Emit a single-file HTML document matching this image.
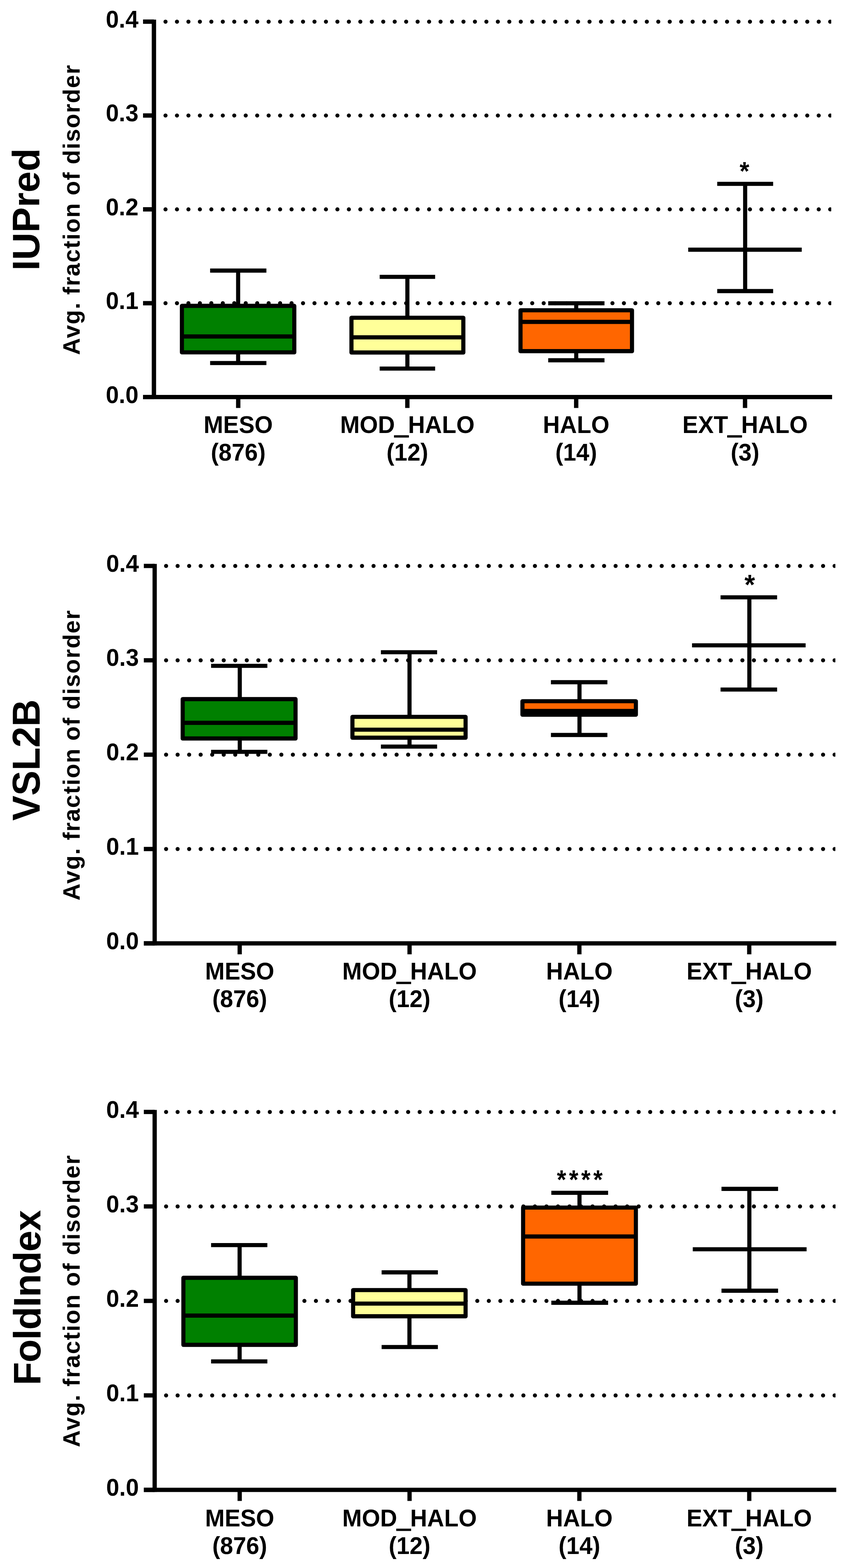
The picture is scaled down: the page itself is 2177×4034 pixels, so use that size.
<!DOCTYPE html>
<html><head><meta charset="utf-8"><title>Disorder box plots</title>
<style>
html,body{margin:0;padding:0;background:#fff;overflow:hidden;}
svg{display:block;}
</style></head>
<body>
<svg width="2177" height="4034" viewBox="0 0 2177 4034">
<rect width="2177" height="4034" fill="#fff"/>
<g id="p0">
<clipPath id="c0"><rect x="396.1" y="35.7" width="1742.9" height="1005.8"/></clipPath>
<g clip-path="url(#c0)" stroke="#000" stroke-width="10.5" stroke-linecap="round" stroke-dasharray="0 29.49" fill="none">
<path d="M425.9 780.05H2159"/>
<path d="M425.9 538.6H2159"/>
<path d="M425.9 297.15H2159"/>
<path d="M425.9 55.7H2159"/>
</g>
<g stroke="#000" stroke-width="10.6" fill="none">
<path d="M612.8 786.9V696.1M540.7 696.1H685.5M612.8 906.5V934M540.7 934H685.5"/>
<rect x="468.1" y="786.9" width="289.2" height="119.6" fill="#008000" stroke-linejoin="round"/>
<path d="M468.1 865.6H757.3"/>
<path d="M1048.3 817.5V712.2M977 712.2H1119.7M1048.3 906.9V948.2M977 948.2H1119.7"/>
<rect x="904.4" y="817.5" width="287.9" height="89.4" fill="#FFFF99" stroke-linejoin="round"/>
<path d="M904.4 867.9H1192.3"/>
<path d="M1482.8 798.2V780.3M1410.7 780.3H1555.5M1482.8 903.4V926.9M1410.7 926.9H1555.5"/>
<rect x="1339.4" y="798.2" width="286.9" height="105.2" fill="#FF6600" stroke-linejoin="round"/>
<path d="M1339.4 828.1H1626.3"/>
<path d="M1917.5 473V748.9M1845.6 473H1989.5M1845.6 748.9H1989.5M1771 642.4H2063.1"/>
</g>
<g stroke="#000" stroke-width="11.2" fill="none">
<path d="M396.1 50.5V1026.7"/>
<path d="M368.1 1021.5H2141.2"/>
<path d="M368.1 1021.5H396.1"/>
<path d="M368.1 780.05H396.1"/>
<path d="M368.1 538.6H396.1"/>
<path d="M368.1 297.15H396.1"/>
<path d="M368.1 55.7H396.1"/>
<path d="M613 1021.5V1049.6"/>
<path d="M1048.2 1021.5V1049.6"/>
<path d="M1482.7 1021.5V1049.6"/>
<path d="M1917.2 1021.5V1049.6"/>
</g>
<g font-family="'Liberation Sans', Arial, Helvetica, sans-serif" font-weight="bold" fill="#000">
<text transform="translate(356.30 1036.50) scale(1 1.0350)" font-size="60.50" text-anchor="end">0.0</text>
<text transform="translate(356.30 795.05) scale(1 1.0350)" font-size="60.50" text-anchor="end">0.1</text>
<text transform="translate(356.30 553.60) scale(1 1.0350)" font-size="60.50" text-anchor="end">0.2</text>
<text transform="translate(356.30 312.15) scale(1 1.0350)" font-size="60.50" text-anchor="end">0.3</text>
<text transform="translate(356.30 70.70) scale(1 1.0350)" font-size="60.50" text-anchor="end">0.4</text>
<text transform="translate(613.00 1114.10) scale(1 1.0350)" font-size="60.50" text-anchor="middle">MESO</text>
<text transform="translate(613.00 1184.50) scale(1 1.0350)" font-size="60.50" text-anchor="middle">(876)</text>
<text transform="translate(1048.20 1114.10) scale(1 1.0350)" font-size="60.50" text-anchor="middle">MOD<tspan dy="1.9" stroke="#000" stroke-width="3.6">_</tspan><tspan dy="-1.9">HALO</tspan></text>
<text transform="translate(1048.20 1184.50) scale(1 1.0350)" font-size="60.50" text-anchor="middle">(12)</text>
<text transform="translate(1482.70 1114.10) scale(1 1.0350)" font-size="60.50" text-anchor="middle">HALO</text>
<text transform="translate(1482.70 1184.50) scale(1 1.0350)" font-size="60.50" text-anchor="middle">(14)</text>
<text transform="translate(1917.20 1114.10) scale(1 1.0350)" font-size="60.50" text-anchor="middle">EXT<tspan dy="1.9" stroke="#000" stroke-width="3.6">_</tspan><tspan dy="-1.9">HALO</tspan></text>
<text transform="translate(1917.20 1184.50) scale(1 1.0350)" font-size="60.50" text-anchor="middle">(3)</text>
<text transform="translate(1903.31 462.50) scale(1 1.0312)" font-size="64.10" text-anchor="start">*</text>
<text transform="translate(205.00 913.31) rotate(-90) scale(1 1.0083)" font-size="60.500" letter-spacing="1.899">Avg. fraction of disorder</text>
<text transform="translate(101.30 695.93) rotate(-90) scale(1 1.0093)" font-size="97.595">IUPred</text>
</g>
</g>
<g id="p1">
<clipPath id="c1"><rect x="398" y="1436" width="1751.6" height="1011"/></clipPath>
<g clip-path="url(#c1)" stroke="#000" stroke-width="10.5" stroke-linecap="round" stroke-dasharray="0 29.66" fill="none">
<path d="M427.4 2184.25H2169.6"/>
<path d="M427.4 1941.5H2169.6"/>
<path d="M427.4 1698.75H2169.6"/>
<path d="M427.4 1456H2169.6"/>
</g>
<g stroke="#000" stroke-width="10.6" fill="none">
<path d="M617 1798.6V1713M543.2 1713H688M617 1899.9V1934.3M543.2 1934.3H688"/>
<rect x="470.1" y="1798.6" width="290.4" height="101.3" fill="#008000" stroke-linejoin="round"/>
<path d="M470.1 1859.6H760.5"/>
<path d="M1053.8 1844.2V1678M980.2 1678H1124.8M1053.8 1897.9V1920.8M980.2 1920.8H1124.8"/>
<rect x="906.9" y="1844.2" width="291.2" height="53.7" fill="#FFFF99" stroke-linejoin="round"/>
<path d="M906.9 1877.2H1198.1"/>
<path d="M1491.2 1804V1755.1M1417.7 1755.1H1563M1491.2 1838.7V1890.9M1417.7 1890.9H1563"/>
<rect x="1344.4" y="1804" width="291.9" height="34.7" fill="#FF6600" stroke-linejoin="round"/>
<path d="M1344.4 1829H1636.3"/>
<path d="M1928.3 1536.7V1774M1854.2 1536.7H1999.7M1854.2 1774H1999.7M1780.8 1660.3H2073.1"/>
</g>
<g stroke="#000" stroke-width="11" fill="none">
<path d="M398 1450.8V2432.2"/>
<path d="M370.1 2427H2151.9"/>
<path d="M370.1 2427H398"/>
<path d="M370.1 2184.25H398"/>
<path d="M370.1 1941.5H398"/>
<path d="M370.1 1698.75H398"/>
<path d="M370.1 1456H398"/>
<path d="M616.8 2427V2455.2"/>
<path d="M1053.9 2427V2455.2"/>
<path d="M1490.9 2427V2455.2"/>
<path d="M1928 2427V2455.2"/>
</g>
<g font-family="'Liberation Sans', Arial, Helvetica, sans-serif" font-weight="bold" fill="#000">
<text transform="translate(357.30 2441.70) scale(1 1.0350)" font-size="60.50" text-anchor="end">0.0</text>
<text transform="translate(357.30 2198.95) scale(1 1.0350)" font-size="60.50" text-anchor="end">0.1</text>
<text transform="translate(357.30 1956.20) scale(1 1.0350)" font-size="60.50" text-anchor="end">0.2</text>
<text transform="translate(357.30 1713.45) scale(1 1.0350)" font-size="60.50" text-anchor="end">0.3</text>
<text transform="translate(357.30 1470.70) scale(1 1.0350)" font-size="60.50" text-anchor="end">0.4</text>
<text transform="translate(616.80 2520.10) scale(1 1.0350)" font-size="60.50" text-anchor="middle">MESO</text>
<text transform="translate(616.80 2590.80) scale(1 1.0350)" font-size="60.50" text-anchor="middle">(876)</text>
<text transform="translate(1053.90 2520.10) scale(1 1.0350)" font-size="60.50" text-anchor="middle">MOD<tspan dy="1.9" stroke="#000" stroke-width="3.6">_</tspan><tspan dy="-1.9">HALO</tspan></text>
<text transform="translate(1053.90 2590.80) scale(1 1.0350)" font-size="60.50" text-anchor="middle">(12)</text>
<text transform="translate(1490.90 2520.10) scale(1 1.0350)" font-size="60.50" text-anchor="middle">HALO</text>
<text transform="translate(1490.90 2590.80) scale(1 1.0350)" font-size="60.50" text-anchor="middle">(14)</text>
<text transform="translate(1928.00 2520.10) scale(1 1.0350)" font-size="60.50" text-anchor="middle">EXT<tspan dy="1.9" stroke="#000" stroke-width="3.6">_</tspan><tspan dy="-1.9">HALO</tspan></text>
<text transform="translate(1928.00 2590.80) scale(1 1.0350)" font-size="60.50" text-anchor="middle">(3)</text>
<text transform="translate(1915.80 1529.40) scale(1 1.0273)" font-size="69.60" text-anchor="start">*</text>
<text transform="translate(205.00 2316.81) rotate(-90) scale(1 1.0083)" font-size="60.500" letter-spacing="1.924">Avg. fraction of disorder</text>
<text transform="translate(101.70 2111.46) rotate(-90) scale(1 1.0329)" font-size="96.818">VSL2B</text>
</g>
</g>
<g id="p2">
<clipPath id="c2"><rect x="398" y="2840.7" width="1752" height="1012.3"/></clipPath>
<g clip-path="url(#c2)" stroke="#000" stroke-width="10.5" stroke-linecap="round" stroke-dasharray="0 29.66" fill="none">
<path d="M427.4 3589.93H2170"/>
<path d="M427.4 3346.85H2170"/>
<path d="M427.4 3103.77H2170"/>
<path d="M427.4 2860.7H2170"/>
</g>
<g stroke="#000" stroke-width="10.6" fill="none">
<path d="M616.6 3287.4V3203.3M543.2 3203.3H688M616.6 3459.9V3502.5M543.2 3502.5H688"/>
<rect x="471.9" y="3287.4" width="289.4" height="172.5" fill="#008000" stroke-linejoin="round"/>
<path d="M471.9 3384.6H761.3"/>
<path d="M1053.6 3319V3273.4M982 3273.4H1126.8M1053.6 3386.4V3465.5M982 3465.5H1126.8"/>
<rect x="908.7" y="3319" width="289.4" height="67.4" fill="#FFFF99" stroke-linejoin="round"/>
<path d="M908.7 3353.7H1198.1"/>
<path d="M1491.2 3106.7V3068.8M1418.7 3068.8H1564.8M1491.2 3302.5V3351.6M1418.7 3351.6H1564.8"/>
<rect x="1346.1" y="3106.7" width="290.2" height="195.8" fill="#FF6600" stroke-linejoin="round"/>
<path d="M1346.1 3181.1H1636.3"/>
<path d="M1928.3 3058.6V3320.6M1856.6 3058.6H2002.2M1856.6 3320.6H2002.2M1782.7 3214H2075.6"/>
</g>
<g stroke="#000" stroke-width="11" fill="none">
<path d="M398 2855.5V3838.2"/>
<path d="M370.1 3833H2151.9"/>
<path d="M370.1 3833H398"/>
<path d="M370.1 3589.93H398"/>
<path d="M370.1 3346.85H398"/>
<path d="M370.1 3103.77H398"/>
<path d="M370.1 2860.7H398"/>
<path d="M616.8 3833V3861.5"/>
<path d="M1053.9 3833V3861.5"/>
<path d="M1490.9 3833V3861.5"/>
<path d="M1928 3833V3861.5"/>
</g>
<g font-family="'Liberation Sans', Arial, Helvetica, sans-serif" font-weight="bold" fill="#000">
<text transform="translate(357.30 3847.80) scale(1 1.0350)" font-size="60.50" text-anchor="end">0.0</text>
<text transform="translate(357.30 3604.73) scale(1 1.0350)" font-size="60.50" text-anchor="end">0.1</text>
<text transform="translate(357.30 3361.65) scale(1 1.0350)" font-size="60.50" text-anchor="end">0.2</text>
<text transform="translate(357.30 3118.57) scale(1 1.0350)" font-size="60.50" text-anchor="end">0.3</text>
<text transform="translate(357.30 2875.50) scale(1 1.0350)" font-size="60.50" text-anchor="end">0.4</text>
<text transform="translate(616.80 3926.90) scale(1 1.0350)" font-size="60.50" text-anchor="middle">MESO</text>
<text transform="translate(616.80 3998.00) scale(1 1.0350)" font-size="60.50" text-anchor="middle">(876)</text>
<text transform="translate(1053.90 3926.90) scale(1 1.0350)" font-size="60.50" text-anchor="middle">MOD<tspan dy="1.9" stroke="#000" stroke-width="3.6">_</tspan><tspan dy="-1.9">HALO</tspan></text>
<text transform="translate(1053.90 3998.00) scale(1 1.0350)" font-size="60.50" text-anchor="middle">(12)</text>
<text transform="translate(1490.90 3926.90) scale(1 1.0350)" font-size="60.50" text-anchor="middle">HALO</text>
<text transform="translate(1490.90 3998.00) scale(1 1.0350)" font-size="60.50" text-anchor="middle">(14)</text>
<text transform="translate(1928.00 3926.90) scale(1 1.0350)" font-size="60.50" text-anchor="middle">EXT<tspan dy="1.9" stroke="#000" stroke-width="3.6">_</tspan><tspan dy="-1.9">HALO</tspan></text>
<text transform="translate(1928.00 3998.00) scale(1 1.0350)" font-size="60.50" text-anchor="middle">(3)</text>
<text transform="translate(1433.12 3058.30) scale(1 1.0955)" font-size="61.80" text-anchor="start">*</text>
<text transform="translate(1464.32 3058.30) scale(1 1.0955)" font-size="61.80" text-anchor="start">*</text>
<text transform="translate(1495.52 3058.30) scale(1 1.0955)" font-size="61.80" text-anchor="start">*</text>
<text transform="translate(1526.72 3058.30) scale(1 1.0955)" font-size="61.80" text-anchor="start">*</text>
<text transform="translate(205.00 3723.31) rotate(-90) scale(1 1.0083)" font-size="60.500" letter-spacing="2.112">Avg. fraction of disorder</text>
<text transform="translate(103.50 3563.72) rotate(-90) scale(1 1.0103)" font-size="97.500" letter-spacing="-1.209">FoldIndex</text>
</g>
</g>
</svg>
</body></html>
